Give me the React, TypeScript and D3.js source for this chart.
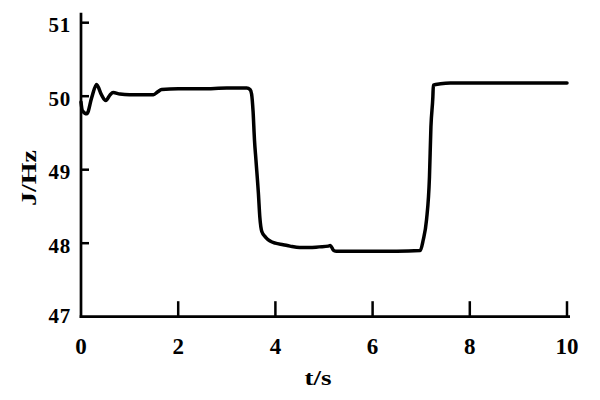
import React from "react";
import * as d3 from "d3";

const timeValues: number[] = [0, 0.03, 0.12, 0.22, 0.32, 0.42, 0.51, 0.6, 0.66, 0.8, 1.0, 1.2, 1.49, 1.58, 1.66, 2.0, 2.5, 3.0, 3.41, 3.48, 3.51, 3.54, 3.57, 3.6, 3.65, 3.68, 3.72, 3.8, 3.89, 4.0, 4.16, 4.3, 4.5, 4.7, 4.9, 5.09, 5.13, 5.2, 5.26, 5.5, 6.0, 6.5, 6.98, 7.04, 7.11, 7.17, 7.2, 7.24, 7.25, 7.4, 7.6, 8.0, 9.0, 10.0];
const freqValues: number[] = [49.92, 49.8, 49.76, 49.98, 50.16, 50.02, 49.94, 50.02, 50.05, 50.03, 50.02, 50.02, 50.02, 50.06, 50.09, 50.1, 50.1, 50.11, 50.11, 50.09, 50.03, 49.8, 49.4, 49.13, 48.68, 48.35, 48.16, 48.08, 48.03, 48.0, 47.98, 47.96, 47.94, 47.94, 47.95, 47.96, 47.97, 47.9, 47.89, 47.89, 47.89, 47.89, 47.9, 48.04, 48.32, 48.9, 49.58, 49.99, 50.15, 50.17, 50.18, 50.18, 50.18, 50.18];

const xTicks: number[] = [0, 2, 4, 6, 8, 10];
const yTicks: number[] = [47, 48, 49, 50, 51];
const xTitle = "t/s";
const yTitle = "J/Hz";

export default function App() {
  const width = 600;
  const height = 400;
  const x = d3.scaleLinear().domain([0, 10]).range([81, 567]);
  const y = d3.scaleLinear().domain([47, 51]).range([316.7, 22.7]);
  const data = timeValues.map((t, i) => [t, freqValues[i]] as [number, number]);
  const line = d3
    .line<[number, number]>()
    .x((d) => x(d[0]))
    .y((d) => y(d[1]))
    .curve(d3.curveMonotoneX);

  const font = "'Liberation Serif', 'Times New Roman', serif";
  const axisColor = "#000";
  const x0 = x(0);
  const yBottom = y(47);

  return (
    <svg
      width={width}
      height={height}
      style={{ position: "absolute", left: 0, top: 0, background: "#fff" }}
    >
      <rect x={0} y={0} width={width} height={height} fill="#fff" />
      <line x1={x0} x2={x0} y1={12.7} y2={yBottom + 1.3} stroke={axisColor} strokeWidth={2.7} />
      <line x1={x0 - 1.3} x2={570} y1={yBottom} y2={yBottom} stroke={axisColor} strokeWidth={2.7} />
      {yTicks.map((v) => (
        <g key={"y" + v}>
          {v !== 47 && (
            <line x1={x0} x2={x0 + 8} y1={y(v)} y2={y(v)} stroke={axisColor} strokeWidth={2.5} />
          )}
          <text
            x={71}
            y={y(v) + (v === 47 ? 6.5 : 9.5)}
            textAnchor="end"
            fontFamily={font}
            fontWeight="bold"
            fontSize={21}
            letterSpacing={0.8}
            fill="#000"
          >
            {v}
          </text>
        </g>
      ))}
      {xTicks.map((t) => (
        <g key={"x" + t}>
          {t !== 0 && (
            <line x1={x(t)} x2={x(t)} y1={yBottom} y2={yBottom - 15.5} stroke={axisColor} strokeWidth={2.5} />
          )}
          <text
            x={x(t)}
            y={354}
            textAnchor="middle"
            fontFamily={font}
            fontWeight="bold"
            fontSize={23}
            fill="#000"
          >
            {t}
          </text>
        </g>
      ))}
      <text
        x={318}
        y={385}
        textAnchor="middle"
        fontFamily={font}
        fontWeight="bold"
        fontSize={22}
        textLength={27}
        lengthAdjust="spacingAndGlyphs"
        fill="#000"
      >
        {xTitle}
      </text>
      <text
        transform="translate(36,178) rotate(-90)"
        textAnchor="middle"
        fontFamily={font}
        fontWeight="bold"
        fontSize={22}
        textLength={56}
        lengthAdjust="spacingAndGlyphs"
        fill="#000"
      >
        {yTitle}
      </text>
      <path d={line(data) || ""} fill="none" stroke="#000" strokeWidth={3.5} strokeLinejoin="round" strokeLinecap="round" />
    </svg>
  );
}
